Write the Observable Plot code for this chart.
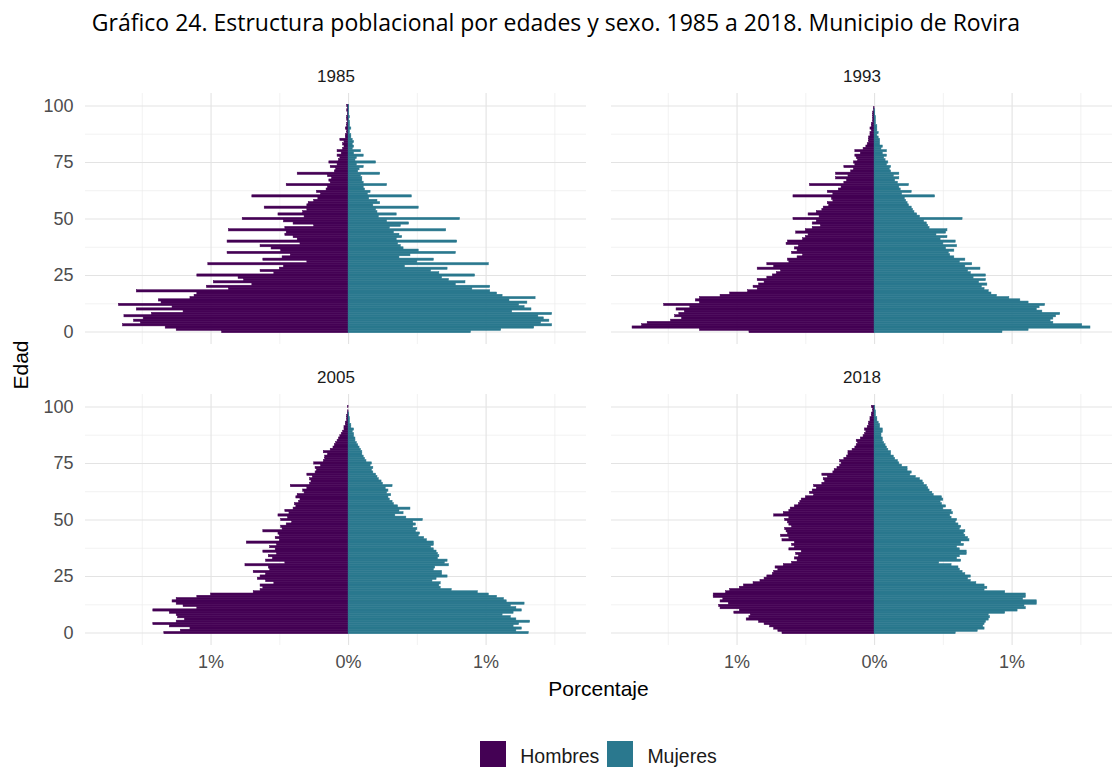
<!DOCTYPE html>
<html><head><meta charset="utf-8">
<script src="https://cdn.jsdelivr.net/npm/d3@7"></script>
<script src="https://cdn.jsdelivr.net/npm/@observablehq/plot@0.6"></script>
<style>
body{margin:0;background:#fff;font-family:"Liberation Sans",Arial,sans-serif;overflow:hidden;}
#title{height:52px;line-height:44px;text-align:center;font-family:"Open Sans",sans-serif;font-size:23px;color:#000;white-space:nowrap;}
#legend{display:flex;justify-content:center;align-items:flex-start;padding-left:85px;margin-top:29px;font-size:19.5px;color:#1a1a1a;}
.sw{width:26px;height:30px;display:inline-block;margin-right:14px;}
.item{display:flex;align-items:center;margin:0 4px;}
</style>
</head><body>
<div id="title">Gráfico 24. Estructura poblacional por edades y sexo. 1985 a 2018. Municipio de Rovira</div>
<div id="chart"></div>
<div id="legend"></div>
<script>
const years = ["1985", "1993", "2005", "2018"];
const sexes = ["Hombres", "Mujeres"];
const colors = ["#440154", "#2A788E"];
const xTicks = [-1, 0, 1];
const yTicks = [0, 25, 50, 75, 100];

// Percentage of population by single age (0..100)
const hombres1985 = [0.92,1.25,1.33,1.64,1.51,1.56,1.49,1.63,1.43,1.20,
 1.54,1.28,1.67,1.36,1.38,1.15,1.12,1.10,1.54,0.87,
 1.03,0.70,0.98,0.76,0.80,1.10,0.54,0.64,0.50,0.47,
 1.02,0.30,0.62,0.48,0.42,0.88,0.49,0.56,0.64,0.35,
 0.88,0.37,0.40,0.46,0.45,0.87,0.46,0.25,0.40,0.47,
 0.77,0.32,0.51,0.33,0.30,0.61,0.30,0.29,0.25,0.22,
 0.70,0.20,0.23,0.16,0.15,0.45,0.13,0.14,0.12,0.15,
 0.37,0.10,0.09,0.13,0.08,0.14,0.07,0.06,0.08,0.05,
 0.08,0.04,0.03,0.04,0.03,0.06,0.02,0.02,0.01,0.01,
 0.02,0.01,0.01,0.005,0.01,0.01,0.005,0.005,0.01,0.005,0.01];
const mujeres1985 = [0.89,1.11,1.35,1.48,1.40,1.46,1.42,1.38,1.48,1.19,
 1.33,1.28,1.24,1.30,1.17,1.36,1.12,1.08,1.03,0.90,
 1.03,0.78,0.85,0.73,0.68,0.92,0.66,0.60,0.72,0.41,
 1.02,0.50,0.62,0.37,0.45,0.78,0.51,0.40,0.38,0.36,
 0.79,0.35,0.39,0.37,0.33,0.71,0.30,0.38,0.44,0.28,
 0.81,0.22,0.35,0.21,0.20,0.51,0.18,0.23,0.21,0.15,
 0.46,0.14,0.16,0.12,0.11,0.28,0.11,0.10,0.10,0.09,
 0.23,0.07,0.08,0.11,0.06,0.20,0.05,0.06,0.11,0.04,
 0.09,0.03,0.04,0.03,0.04,0.03,0.02,0.02,0.01,0.01,
 0.02,0.01,0.01,0.01,0.005,0.01,0.005,0.005,0.005,0.005,0.005];
const hombres1993 = [0.91,1.27,1.76,1.69,1.65,1.48,1.40,1.45,1.42,1.38,
 1.44,1.34,1.53,1.27,1.30,1.27,1.12,1.05,0.92,0.85,
 0.88,0.84,0.80,0.85,0.78,0.74,0.71,0.68,0.85,0.73,
 0.78,0.62,0.63,0.56,0.52,0.60,0.56,0.58,0.55,0.64,
 0.63,0.52,0.50,0.48,0.57,0.50,0.45,0.39,0.45,0.42,
 0.59,0.40,0.48,0.42,0.38,0.37,0.33,0.34,0.30,0.31,
 0.59,0.30,0.34,0.26,0.24,0.47,0.22,0.20,0.28,0.19,
 0.28,0.17,0.15,0.22,0.14,0.15,0.12,0.13,0.14,0.10,
 0.14,0.08,0.06,0.05,0.04,0.04,0.04,0.03,0.03,0.02,
 0.03,0.02,0.02,0.01,0.01,0.01,0.01,0.01,0.005,0.005,0];
const mujeres1993 = [0.93,1.12,1.57,1.51,1.30,1.28,1.30,1.32,1.35,1.22,
 1.18,1.20,1.24,1.12,1.06,0.98,0.89,0.85,0.83,0.80,
 0.78,0.82,0.76,0.81,0.72,0.81,0.70,0.68,0.77,0.66,
 0.71,0.62,0.66,0.58,0.55,0.54,0.58,0.52,0.60,0.50,
 0.59,0.48,0.53,0.45,0.52,0.53,0.40,0.39,0.38,0.36,
 0.64,0.33,0.31,0.29,0.28,0.27,0.25,0.24,0.23,0.22,
 0.44,0.20,0.27,0.19,0.18,0.25,0.17,0.15,0.18,0.14,
 0.18,0.12,0.11,0.12,0.09,0.10,0.08,0.07,0.09,0.06,
 0.09,0.05,0.06,0.04,0.04,0.04,0.03,0.02,0.03,0.02,
 0.02,0.02,0.01,0.01,0.01,0.01,0.005,0.005,0.005,0,0];
const hombres2005 = [1.34,1.22,1.15,1.30,1.42,1.25,1.19,1.24,1.25,1.30,
 1.42,1.10,1.20,1.25,1.28,1.25,1.10,1.00,0.69,0.64,
 0.62,0.64,0.54,0.60,0.66,0.64,0.60,0.69,0.57,0.58,
 0.75,0.46,0.60,0.55,0.58,0.52,0.62,0.53,0.57,0.52,
 0.74,0.50,0.53,0.50,0.51,0.62,0.48,0.49,0.45,0.41,
 0.49,0.44,0.51,0.43,0.46,0.40,0.38,0.39,0.36,0.35,
 0.38,0.37,0.32,0.33,0.30,0.42,0.28,0.27,0.28,0.26,
 0.30,0.24,0.23,0.24,0.20,0.25,0.18,0.17,0.17,0.15,
 0.18,0.13,0.11,0.10,0.09,0.08,0.07,0.06,0.05,0.04,
 0.03,0.03,0.02,0.02,0.01,0.01,0.01,0.005,0.005,0,0.005];
const mujeres2005 = [1.31,1.22,1.26,1.20,1.24,1.32,1.22,1.18,1.12,1.20,
 1.26,1.22,1.18,1.28,1.15,1.13,1.08,1.02,0.94,0.75,
 0.67,0.66,0.67,0.61,0.64,0.72,0.68,0.68,0.62,0.63,
 0.73,0.70,0.72,0.65,0.66,0.65,0.64,0.62,0.60,0.62,
 0.62,0.57,0.55,0.51,0.52,0.49,0.50,0.47,0.49,0.47,
 0.54,0.42,0.34,0.40,0.37,0.45,0.36,0.33,0.32,0.30,
 0.29,0.31,0.28,0.29,0.27,0.32,0.25,0.24,0.22,0.21,
 0.20,0.18,0.17,0.18,0.16,0.17,0.13,0.12,0.11,0.10,
 0.10,0.09,0.08,0.07,0.06,0.05,0.05,0.04,0.04,0.03,
 0.04,0.02,0.02,0.01,0.01,0.01,0.005,0.005,0,0,0];
const hombres2018 = [0.67,0.70,0.73,0.76,0.80,0.84,0.93,0.91,0.90,1.02,
 0.98,1.12,1.13,1.06,1.12,1.10,1.17,1.17,1.08,1.05,
 0.98,0.95,0.88,0.83,0.80,0.78,0.74,0.73,0.70,0.72,
 0.66,0.60,0.56,0.58,0.55,0.57,0.53,0.62,0.58,0.60,
 0.58,0.67,0.62,0.68,0.63,0.64,0.65,0.60,0.62,0.63,
 0.65,0.62,0.73,0.66,0.62,0.61,0.58,0.55,0.54,0.53,
 0.50,0.44,0.47,0.45,0.42,0.44,0.38,0.36,0.37,0.34,
 0.38,0.30,0.29,0.27,0.25,0.24,0.25,0.22,0.20,0.19,
 0.19,0.16,0.14,0.13,0.12,0.13,0.10,0.08,0.07,0.06,
 0.07,0.05,0.04,0.04,0.03,0.03,0.02,0.02,0.01,0.01,0.02];
const mujeres2018 = [0.59,0.75,0.80,0.79,0.80,0.81,0.83,0.84,0.83,0.95,
 1.04,1.10,1.09,1.18,1.18,1.08,1.10,1.10,0.95,0.80,
 0.82,0.80,0.74,0.70,0.68,0.70,0.66,0.64,0.62,0.61,
 0.56,0.47,0.63,0.60,0.62,0.67,0.67,0.62,0.60,0.65,
 0.63,0.69,0.68,0.66,0.65,0.66,0.62,0.63,0.61,0.59,
 0.60,0.56,0.55,0.57,0.56,0.50,0.52,0.49,0.48,0.50,
 0.49,0.43,0.42,0.40,0.39,0.38,0.36,0.35,0.33,0.30,
 0.26,0.27,0.24,0.24,0.20,0.18,0.17,0.15,0.14,0.12,
 0.12,0.10,0.09,0.08,0.07,0.06,0.06,0.05,0.05,0.06,
 0.06,0.04,0.04,0.03,0.02,0.02,0.01,0.01,0.01,0.005,0.005];

const hombres = [hombres1985, hombres1993, hombres2005, hombres2018];
const mujeres = [mujeres1985, mujeres1993, mujeres2005, mujeres2018];

const rows = [];
years.forEach((yr, i) => {
  hombres[i].forEach((v, age) => rows.push({year: yr, col: i % 2, row: Math.floor(i / 2), age, sex: sexes[0], value: -v}));
  mujeres[i].forEach((v, age) => rows.push({year: yr, col: i % 2, row: Math.floor(i / 2), age, sex: sexes[1], value: v}));
});
const panels = years.map((yr, i) => ({year: yr, col: i % 2, row: Math.floor(i / 2)}));

const W = 1112, H = 660, ML = 85;
const plot = Plot.plot({
  width: W, height: H,
  marginLeft: ML, marginRight: 0, marginTop: 40, marginBottom: 66.5,
  style: {fontFamily: '"Liberation Sans", Arial, sans-serif', background: "#fff"},
  fx: {domain: [0, 1], axis: null, paddingInner: 0.0477, paddingOuter: 0},
  fy: {domain: [0, 1], axis: null, paddingInner: 0.1656, paddingOuter: 0},
  x: {domain: [-1.913, 1.73]},
  y: {domain: [-5.5, 105.5]},
  color: {domain: sexes, range: colors},
  marks: [
    Plot.gridX({ticks: [-1.5, -0.5, 0.5, 1.5], stroke: "#ededed", strokeOpacity: 1, strokeWidth: 0.7}),
    Plot.gridY({ticks: [12.5, 37.5, 62.5, 87.5], stroke: "#ededed", strokeOpacity: 1, strokeWidth: 0.7}),
    Plot.gridX({ticks: xTicks, stroke: "#e3e3e3", strokeOpacity: 1, strokeWidth: 1.1}),
    Plot.gridY({ticks: yTicks, stroke: "#e3e3e3", strokeOpacity: 1, strokeWidth: 1.1}),
    Plot.rectX(rows, {
      fx: "col", fy: "row",
      x1: d => 0, x2: "value",
      y1: d => d.age - 0.5, y2: d => d.age + 0.5,
      fill: "sex", stroke: "sex", strokeWidth: 0.5
    }),
    Plot.axisX({ticks: xTicks, tickFormat: d => Math.abs(d) + "%", tickSize: 0, tickPadding: 10, fontSize: 18, fill: "#4d4d4d", label: null}),
    Plot.axisY({ticks: yTicks, tickSize: 0, tickPadding: 12, fontSize: 18, fill: "#4d4d4d", label: null}),
    Plot.text(panels, {fx: "col", fy: "row", text: "year", frameAnchor: "top", lineAnchor: "middle", dy: -16.5, fontSize: 17, fill: "#1a1a1a"})
  ]
});
document.getElementById("chart").appendChild(plot);

const svg = d3.select(plot);
svg.append("text").attr("transform", `translate(22,${313}) rotate(-90)`)
  .attr("text-anchor", "middle").attr("dominant-baseline", "middle")
  .attr("font-size", 21).attr("fill", "#000").text("Edad");
svg.append("text").attr("x", (ML + W) / 2).attr("y", 638)
  .attr("text-anchor", "middle").attr("dominant-baseline", "middle")
  .attr("font-size", 21).attr("fill", "#000").text("Porcentaje");

const legend = d3.select("#legend");
sexes.forEach((s, i) => {
  const it = legend.append("div").attr("class", "item");
  it.append("span").attr("class", "sw").style("background", colors[i]);
  it.append("span").text(s);
});
</script>
</body></html>
